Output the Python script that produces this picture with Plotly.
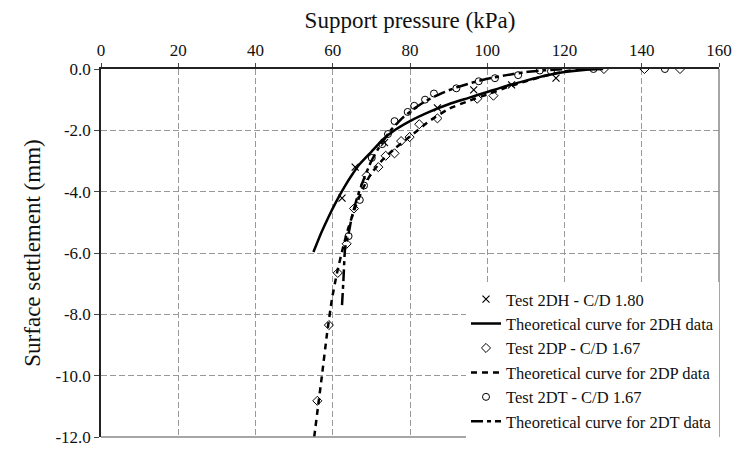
import plotly.graph_objects as go

# ---- data ----
test_2dh_x = [62.4, 65.8, 73.4, 87.1, 96.5, 106.3, 117.8]
test_2dh_y = [-4.21, -3.20, -2.40, -1.27, -0.68, -0.52, -0.30]

theo_2dh_x = [55, 57, 59, 61, 63, 65, 67, 70, 73, 76, 80, 85, 90, 95, 100, 105, 110, 115, 120, 125, 130]
theo_2dh_y = [-5.97, -5.35, -4.80, -4.30, -3.85, -3.45, -3.10, -2.70, -2.30, -2.00, -1.70, -1.40,
              -1.15, -0.95, -0.75, -0.55, -0.38, -0.22, -0.10, -0.03, 0.0]

test_2dp_x = [56.0, 59.0, 61.3, 63.6, 65.5, 68.8, 71.8, 73.7, 76.0, 77.7, 79.9, 82.4, 87.1, 97.4, 101.6, 130.2, 140.7, 149.9]
test_2dp_y = [-10.82, -8.35, -6.65, -5.70, -4.55, -3.47, -3.20, -2.83, -2.75, -2.35, -2.22, -1.80, -1.61, -0.97, -0.87, 0.0, 0.0, 0.0]

theo_2dp_x = [55.2, 56.2, 57.2, 58.5, 59.8, 61.1, 62.5, 64, 66, 68, 70, 73, 76, 80, 85, 90, 95, 100, 105, 110, 115, 120, 125]
theo_2dp_y = [-12.0, -11.0, -10.0, -8.65, -7.50, -6.65, -5.90, -5.20, -4.45, -3.85, -3.40, -2.95, -2.60,
              -2.20, -1.70, -1.30, -1.05, -0.83, -0.60, -0.40, -0.22, -0.08, 0.0]

test_2dt_x = [64.1, 67.0, 68.1, 70.1, 72.8, 74.3, 76.0, 79.4, 81.1, 83.9, 86.2, 92.0, 97.8, 102.0, 108.0, 113.6, 116.5, 127.5, 146.0]
test_2dt_y = [-5.45, -4.27, -3.80, -2.90, -2.45, -2.12, -1.70, -1.40, -1.20, -1.00, -0.80, -0.63, -0.40, -0.30, -0.20, -0.05, -0.07, 0.0, 0.0]

theo_2dt_x = [62.4, 62.8, 63.2, 64.1, 64.9, 66.3, 68, 70, 72.5, 75, 78, 81, 84, 88, 92, 96, 100, 105, 110, 115, 120]
theo_2dt_y = [-7.70, -6.80, -5.85, -5.37, -4.85, -4.20, -3.60, -3.00, -2.45, -2.00, -1.60, -1.30, -1.05,
              -0.80, -0.60, -0.45, -0.32, -0.20, -0.10, -0.04, 0.0]

x_ticks = [0, 20, 40, 60, 80, 100, 120, 140, 160]
y_ticks = [0, -2, -4, -6, -8, -10, -12]
y_tick_labels = ["0.0", "-2.0", "-4.0", "-6.0", "-8.0", "-10.0", "-12.0"]

FONT = "Liberation Serif, Times New Roman, serif"

fig = go.Figure()
fig.add_trace(go.Scatter(x=test_2dh_x, y=test_2dh_y, mode="markers", name="Test 2DH - C/D 1.80",
                         marker=dict(symbol="x-thin-open", size=7, color="black", line=dict(width=1.2, color="black"))))
fig.add_trace(go.Scatter(x=theo_2dh_x, y=theo_2dh_y, mode="lines", name="Theoretical curve for 2DH data",
                         line=dict(color="black", width=2.5, shape="spline", smoothing=0.5)))
fig.add_trace(go.Scatter(x=test_2dp_x, y=test_2dp_y, mode="markers", name="Test 2DP - C/D 1.67",
                         marker=dict(symbol="diamond-open", size=7, color="black", line=dict(width=1, color="black"))))
fig.add_trace(go.Scatter(x=theo_2dp_x, y=theo_2dp_y, mode="lines", name="Theoretical curve for 2DP data",
                         line=dict(color="black", width=2.5, dash="6px,5px", shape="spline", smoothing=0.5)))
fig.add_trace(go.Scatter(x=test_2dt_x, y=test_2dt_y, mode="markers", name="Test 2DT - C/D 1.67",
                         marker=dict(symbol="circle-open", size=7, color="black", line=dict(width=1, color="black"))))
fig.add_trace(go.Scatter(x=theo_2dt_x, y=theo_2dt_y, mode="lines", name="Theoretical curve for 2DT data",
                         line=dict(color="black", width=2.5, dash="12px,4px,4px,4px", shape="spline", smoothing=0.5)))

fig.update_layout(
    width=744, height=459,
    margin=dict(l=101, r=18, t=69, b=14),
    paper_bgcolor="white", plot_bgcolor="white",
    font=dict(family=FONT, size=17, color="#111"),
    xaxis=dict(
        side="top", range=[0, 160], tickvals=x_ticks, ticktext=[str(v) for v in x_ticks],
        showgrid=True, gridcolor="#999", griddash="6px,3px", gridwidth=1,
        showline=True, linecolor="#222", linewidth=1.5,
        ticks="outside", ticklen=4, tickcolor="#444",
        zeroline=False, tickfont=dict(size=17),
        title=dict(text="Support pressure (kPa)", font=dict(size=23, family=FONT), standoff=6),
    ),
    yaxis=dict(
        range=[-12, 0], tickvals=y_ticks, ticktext=y_tick_labels,
        showgrid=True, gridcolor="#999", griddash="6px,3px", gridwidth=1,
        showline=True, linecolor="#222", linewidth=1.5,
        ticks="outside", ticklen=5, tickcolor="#444",
        zeroline=False, tickfont=dict(size=17),
        title=dict(text="Surface settlement (mm)", font=dict(size=23, family=FONT), standoff=8),
    ),
    legend=dict(
        x=1.0, y=-0.005, xanchor="right", yanchor="bottom",
        bgcolor="white", borderwidth=0,
        font=dict(family=FONT, size=16.5, color="#111"),
        tracegroupgap=0, itemwidth=30,
    ),
    showlegend=True,
)

# grey frame on right and bottom
fig.add_shape(type="line", xref="paper", yref="paper", x0=1, x1=1, y0=0, y1=1,
              line=dict(color="#888", width=1.5), layer="above")
fig.add_shape(type="line", xref="paper", yref="paper", x0=0, x1=1, y0=0, y1=0,
              line=dict(color="#888", width=1.5), layer="above")

fig.write_html("out.html")
